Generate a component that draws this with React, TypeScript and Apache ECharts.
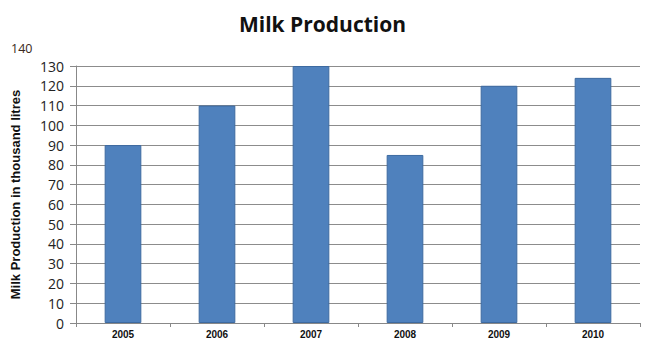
import React, { useEffect, useRef } from "react";
import * as echarts from "echarts";

const categories = ["2005", "2006", "2007", "2008", "2009", "2010"];
const production = [90, 110, 130, 85, 120, 124];
const yMin = 0;
const yMax = 130;
const yStep = 10;
const extraTopLabel = "140";

export default function App() {
  const ref = useRef<HTMLDivElement>(null);
  useEffect(() => {
    if (!ref.current) return;
    const chart = echarts.init(ref.current, null, { renderer: "svg" });
    chart.setOption({
      animation: false,
      backgroundColor: "#ffffff",
      title: {
        text: "Milk Production",
        left: "center",
        top: 8,
        textStyle: { fontFamily: "Open Sans", fontWeight: "bold", fontSize: 21, color: "#111" },
      },
      graphic: [
        {
          type: "text",
          left: 11,
          top: 42,
          style: { text: extraTopLabel, fontFamily: "Open Sans", fontSize: 12.5, fill: "#3a2820" },
        },
      ],
      grid: { left: 76, right: 5, top: 66, bottom: 23 },
      xAxis: {
        type: "category",
        data: categories,
        axisLine: { lineStyle: { color: "#888" } },
        axisTick: { show: true, alignWithLabel: false, length: 4, lineStyle: { color: "#888" } },
        axisLabel: { fontFamily: "Arial", fontWeight: "bold", fontSize: 10, color: "#111", margin: 6 },
      },
      yAxis: {
        type: "value",
        min: yMin,
        max: yMax,
        interval: yStep,
        name: "Milk Production in thousand litres",
        nameLocation: "middle",
        nameGap: 54,
        nameTextStyle: { fontFamily: "Arial", fontWeight: "bold", fontSize: 13, color: "#111" },
        axisLine: { show: true, lineStyle: { color: "#888" } },
        axisTick: { show: true, length: 6, lineStyle: { color: "#888" } },
        axisLabel: { fontFamily: "Open Sans", fontSize: 14, color: "#222", margin: 12 },
        splitLine: { lineStyle: { color: "#8c8c8c", width: 1 } },
      },
      series: [
        {
          type: "bar",
          data: production,
          barWidth: "39%",
          itemStyle: { color: "#4F81BD", borderColor: "#3d6aa0", borderWidth: 1 },
        },
      ],
    });
    return () => chart.dispose();
  }, []);
  return <div ref={ref} style={{ width: 645, height: 346, position: "absolute", left: 0, top: 0 }} />;
}
